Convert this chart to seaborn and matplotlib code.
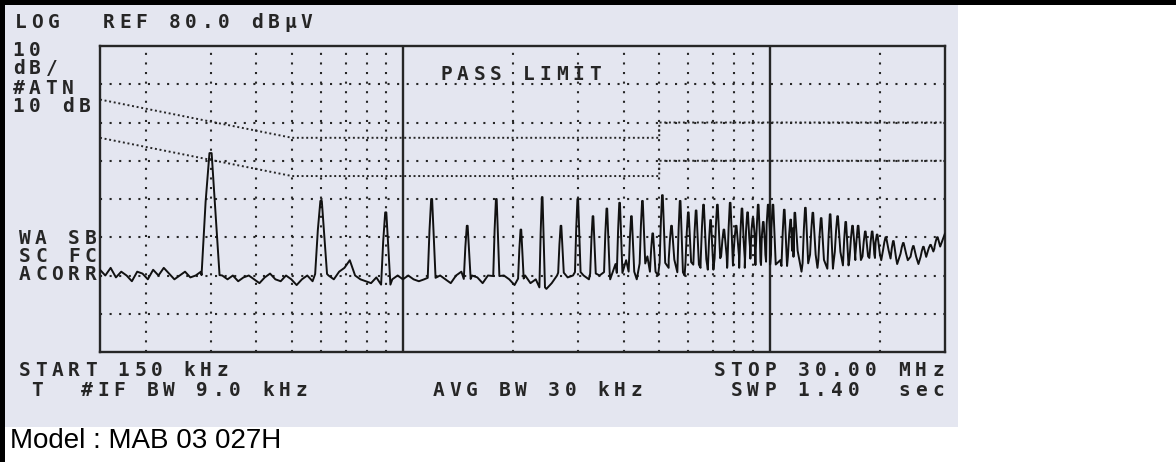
import numpy as np
import pandas as pd
import matplotlib
matplotlib.use("Agg")
import matplotlib.pyplot as plt
import seaborn as sns
from matplotlib.patches import Rectangle

# ---- data (MHz, dBuV) ----
f_start, f_stop = 0.15, 30.0
ref_level, bottom_level = 80, 0

# noise floor sampled on the analyzer's log sweep (160 points)
floor_level = [
    21.5, 20, 22, 19.5, 21, 20, 18.5, 21, 20.5, 19, 21.5, 20, 22, 20.5, 19, 20, 21, 19.5, 20, 21,
    20.5, 20, 19.5, 20,
    19, 20, 18.5, 19.5, 20, 19, 18, 19.5, 20.5, 19, 18.5, 20, 19, 17.5, 19, 20, 18.5, 19.5, 21, 20,
    19, 21, 22, 24, 20, 19, 18.5, 18, 19.5, 18, 17.5, 19, 20,
    19, 20, 19, 18.5, 19, 20, 18.5, 20, 19, 18, 20, 21, 19, 20, 19.5, 18, 20, 21, 19,
    20, 19, 17.5, 19, 20, 18, 19, 17, 16.5, 18, 20, 21, 19.5, 20, 21, 20, 19, 21, 20,
    22, 19, 23, 20, 24, 21, 19, 23, 25, 21, 20, 24, 22, 26, 21, 20, 25, 23, 22, 26,
    21, 24, 27, 22, 23, 26, 21, 25, 27, 22, 24, 26, 21, 24,
    22, 25, 27, 21, 24, 26, 22, 25, 21, 23, 27, 22, 24, 26, 23, 25, 24,
    26, 24, 27, 25, 23, 26, 24, 25, 23, 25, 26, 27, 28, 31,
]
floor_freq = np.geomspace(f_start, f_stop, len(floor_level))

# harmonics of the 300 kHz switching frequency
harm_freq = [0.3, 0.6, 0.9, 1.2, 1.5, 1.8, 2.1, 2.4, 2.7, 3.0, 3.3, 3.6, 3.9, 4.2, 4.5,
             4.8, 5.1, 5.4, 5.7, 6.0, 6.3, 6.6, 6.9, 7.2, 7.5, 7.8, 8.1, 8.4, 8.7, 9.0,
             9.3, 9.6, 9.9,
             10.2, 10.95, 11.4, 11.7, 12.5, 13.1, 13.8, 14.6, 15.3, 16.1, 16.8, 17.4,
             18.2, 19.0, 19.6, 20.7, 21.7, 23.1, 24.6, 26.2, 27.4, 28.6]
harm_level = [52, 39.5, 36.5, 40, 33, 40, 32, 40.5, 33, 40, 35.5, 37.5, 39, 35.5, 39.5,
              31, 41, 33, 39.5, 36.5, 37, 38.5, 34.5, 38.5, 32, 39, 33, 37.5, 36.5, 35,
              38.5, 34, 38.5,
              38.5, 37.2, 34.6, 36.4, 37.7, 36.4, 35, 36, 35.5, 34, 33, 33,
              31.5, 31.5, 30.7, 30, 29, 28.5, 27.7, 27.5, 28, 30]

# EN55022 class B limits
qp_freq = [0.15, 0.5, 5, 5, 30]
qp_limit = [66, 56, 56, 60, 60]
avg_freq = [0.15, 0.5, 5, 5, 30]
avg_limit = [56, 46, 46, 50, 50]

grid_freq = [0.2, 0.3, 0.4, 0.5, 0.6, 0.7, 0.8, 0.9, 2, 3, 4, 5, 6, 7, 8, 9, 20]
major_freq = [1, 10]

# ---- build the trace: floor with harmonic spikes on top ----
W, H = 1176, 462
px_per_dec = 845 / np.log10(f_stop / f_start)
lf = np.log10(floor_freq)
pts = []
spans = []
for f, lv in zip(harm_freq, harm_level):
    hw = max(9 * (0.3 / f) ** 0.6, 2.8) / px_per_dec
    c = np.log10(f)
    base = np.interp(c, lf, floor_level)
    for dx, frac in [(-1, 0), (-0.55, 0.6), (-0.12, 1), (0.12, 1), (0.6, 0.45), (1, 0)]:
        pts.append((10 ** (c + dx * hw), base + frac * (lv - base)))
    spans.append((c - hw, c + hw))
for f, lv in zip(floor_freq, floor_level):
    c = np.log10(f)
    if not any(a < c < b for a, b in spans):
        pts.append((f, lv))
trace = pd.DataFrame(pts, columns=["freq", "level"])

# ---- figure ----
sns.set_style("white")
plt.rcParams["font.family"] = ["DejaVu Sans Mono", "DejaVu Sans"]
panel = "#e4e6f0"
ink = "#262626"

fig = plt.figure(figsize=(W / 100, H / 100), dpi=100)
fig.patch.set_facecolor("white")


def band(x0, y0, x1, y1, color, z):
    # rectangle given in image pixels (top-left origin)
    fig.patches.append(Rectangle((x0 / W, 1 - y1 / H), (x1 - x0) / W, (y1 - y0) / H,
                                 transform=fig.transFigure, facecolor=color,
                                 edgecolor="none", zorder=z))


band(0, 5, 958, 427, panel, -3)
band(0, 0, W, 5, "black", -2)
band(0, 0, 5, H, "black", -2)

ax = fig.add_axes([100 / W, (H - 352) / H, 845 / W, 306 / H])
ax.set_facecolor("none")
ax.set_xscale("log")
ax.set_xlim(f_start, f_stop)
ax.set_ylim(bottom_level, ref_level)

dots = (0, (1, 3.6))
for y in range(10, ref_level, 10):
    ax.axhline(y, color=ink, lw=1.5, ls=dots, zorder=1)
for f in grid_freq:
    ax.axvline(f, color=ink, lw=1.5, ls=dots, zorder=1)
for f in major_freq:
    ax.axvline(f, color=ink, lw=1.7, zorder=2)

ax.plot(qp_freq, qp_limit, color=ink, lw=1.4, ls=(0, (1, 1.4)), zorder=2)
ax.plot(avg_freq, avg_limit, color=ink, lw=1.4, ls=(0, (1, 1.4)), zorder=2)

sns.lineplot(data=trace, x="freq", y="level", ax=ax, color="#111111", lw=1.4,
             estimator=None, zorder=3)

ax.set_xticks([])
ax.set_yticks([])
ax.minorticks_off()
ax.set_xlabel("")
ax.set_ylabel("")
for s in ax.spines.values():
    s.set_color(ink)
    s.set_linewidth(1.7)


def mono(s, x, y, adv=16.5):
    for i, ch in enumerate(s):
        if ch != " ":
            fig.text((x + i * adv + 6.5) / W, 1 - y / H, ch, ha="center", va="center",
                     fontsize=14, fontweight="bold", color=ink)


mono("LOG", 14, 23)
mono("REF 80.0 dBµV", 102, 23)
mono("10", 12, 50)
mono("dB/", 12, 69)
mono("#ATN", 12, 88)
mono("10 dB", 12, 106)
mono("WA SB", 18, 238)
mono("SC FC", 18, 256)
mono("ACORR", 18, 275)
mono("PASS LIMIT", 440, 74)
mono("START 150 kHz", 18, 371)
mono("STOP 30.00 MHz", 713, 371, adv=16.8)
mono("T", 30, 390)
mono("#IF BW 9.0 kHz", 80, 390)
mono("AVG BW 30 kHz", 432, 390)
mono(" SWP 1.40  sec", 713, 390, adv=16.8)

fig.text(10 / W, 1 - 441 / H, "Model : MAB 03 027H", ha="left", va="center",
         fontsize=20, family="Liberation Sans", color="black")

fig.savefig("out.png", dpi=100)
